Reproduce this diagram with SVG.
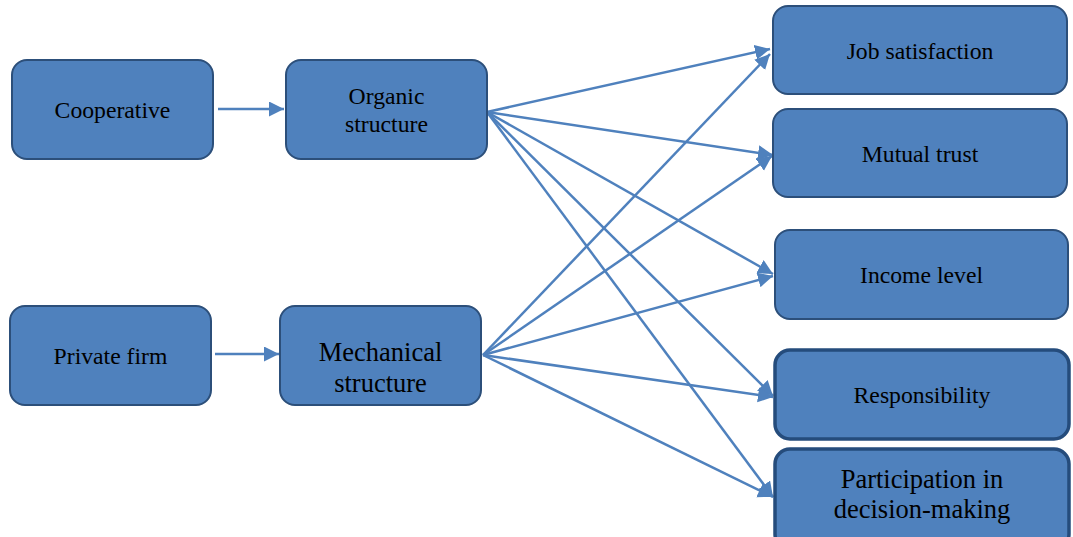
<svg xmlns="http://www.w3.org/2000/svg" width="1073" height="537" viewBox="0 0 1073 537">
<style>
.box{fill:#4F81BD;stroke:#2C4F7A;stroke-width:2}
.box2{fill:#4F81BD;stroke:#254C7C;stroke-width:3.5}
.t{font-family:"Liberation Serif","Times New Roman",serif;font-size:23.7px;fill:#000;text-anchor:middle}
.tl{font-family:"Liberation Serif","Times New Roman",serif;font-size:26.5px;fill:#000;text-anchor:middle}
.c{stroke:#4F81BD;stroke-width:2.5;fill:none;marker-end:url(#ah)}
</style>
<defs>
<marker id="ah" markerUnits="userSpaceOnUse" markerWidth="17" markerHeight="16" refX="15" refY="7.5" orient="auto">
<path d="M0,0 L15,7.5 L0,15 Z" fill="#4F81BD"/>
</marker>
</defs>
<g id="connectors">
<line class="c" x1="218" y1="109" x2="284" y2="109"/>
<line class="c" x1="215" y1="354" x2="279" y2="354"/>
<line class="c" x1="487" y1="112" x2="770" y2="49"/>
<line class="c" x1="487" y1="112" x2="773" y2="155"/>
<line class="c" x1="487" y1="112" x2="773" y2="274"/>
<line class="c" x1="487" y1="112" x2="773" y2="396"/>
<line class="c" x1="487" y1="112" x2="773" y2="497"/>
<line class="c" x1="483" y1="355" x2="770" y2="54"/>
<line class="c" x1="483" y1="355" x2="772" y2="156"/>
<line class="c" x1="483" y1="355" x2="773" y2="276"/>
<line class="c" x1="483" y1="355" x2="773" y2="397"/>
<line class="c" x1="483" y1="355" x2="773" y2="497"/>
</g>
<g id="cooperative">
<rect class="box" x="12" y="60" width="201" height="99" rx="15"/>
<text class="t" x="112.5" y="118">Cooperative</text>
</g>
<g id="organic">
<rect class="box" x="286" y="60" width="201" height="99" rx="15"/>
<text class="t" x="386.5" y="104">Organic</text>
<text class="t" x="386.5" y="132">structure</text>
</g>
<g id="private">
<rect class="box" x="10" y="306" width="201" height="99" rx="15"/>
<text class="t" x="110.5" y="364">Private firm</text>
</g>
<g id="mechanical">
<rect class="box" x="280" y="306" width="201" height="99" rx="15"/>
<text class="tl" x="380.5" y="361">Mechanical</text>
<text class="tl" x="380.5" y="392">structure</text>
</g>
<g id="job">
<rect class="box" x="773" y="6" width="294" height="88" rx="15"/>
<text class="t" x="920" y="59">Job satisfaction</text>
</g>
<g id="trust">
<rect class="box" x="773" y="109" width="294" height="88" rx="15"/>
<text class="t" x="920" y="162">Mutual trust</text>
</g>
<g id="income">
<rect class="box" x="775" y="230" width="293" height="89" rx="15"/>
<text class="t" x="921.5" y="283">Income level</text>
</g>
<g id="responsibility">
<rect class="box2" x="775" y="350" width="294" height="89" rx="15"/>
<text class="t" x="922" y="403">Responsibility</text>
</g>
<g id="participation">
<rect class="box2" x="775" y="449" width="294" height="100" rx="15"/>
<text class="tl" x="922" y="488">Participation in</text>
<text class="tl" x="922" y="518">decision-making</text>
</g>
</svg>
